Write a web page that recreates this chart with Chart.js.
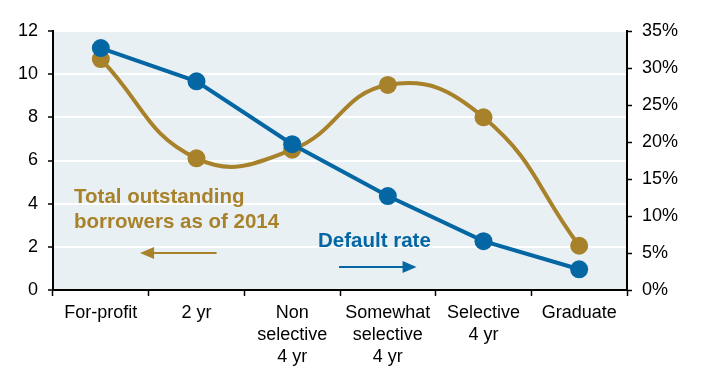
<!DOCTYPE html>
<html>
<head>
<meta charset="utf-8">
<script src="https://cdn.jsdelivr.net/npm/chart.js@4/dist/chart.umd.min.js"></script>
<style>
  html, body { margin: 0; padding: 0; background: #ffffff; }
  #wrap { width: 710px; height: 372px; position: relative; }
</style>
</head>
<body>
<div id="wrap"><canvas id="c" width="710" height="372"></canvas></div>
<script>
// Institution types
const categories = [
  "For-profit",
  "2 yr",
  ["Non", "selective", "4 yr"],
  ["Somewhat", "selective", "4 yr"],
  ["Selective", "4 yr"],
  "Graduate"
];

// Total outstanding borrowers as of 2014, millions (left axis)
const borrowers = [10.7, 6.1, 6.5, 9.5, 8.0, 2.05];

// Default rate, percent (right axis)
const defaultRate = [32.7, 28.2, 19.7, 12.7, 6.6, 2.8];

// Axis ranges
const leftTicks = { min: 0, max: 12, step: 2 };
const rightTicks = { min: 0, max: 35, step: 5 };

const BLUE = "#0467a4";
const GOLD = "#a8822a";
const FONT = "'Liberation Sans', Arial, sans-serif";

// Light panel behind the plot area
const panelBg = {
  id: "panelBg",
  beforeDraw(chart) {
    const { ctx, chartArea: a } = chart;
    ctx.save();
    ctx.fillStyle = "#e9f0f4";
    ctx.fillRect(a.left, a.top, a.right - a.left, a.bottom - a.top);
    ctx.restore();
  }
};

// Series captions with arrows pointing to their axis
const captions = {
  id: "captions",
  afterDatasetsDraw(chart) {
    const { ctx } = chart;
    const x = chart.scales.x, y = chart.scales.y;
    const px = v => x.getPixelForValue(v);
    const py = v => y.getPixelForValue(v);

    function arrow(x1, x2, yy, color) {
      const dir = Math.sign(x2 - x1);
      ctx.save();
      ctx.strokeStyle = color;
      ctx.fillStyle = color;
      ctx.lineWidth = 2;
      ctx.beginPath();
      ctx.moveTo(x1, yy);
      ctx.lineTo(x2 - dir * 12, yy);
      ctx.stroke();
      ctx.beginPath();
      ctx.moveTo(x2, yy);
      ctx.lineTo(x2 - dir * 14, yy - 6);
      ctx.lineTo(x2 - dir * 14, yy + 6);
      ctx.closePath();
      ctx.fill();
      ctx.restore();
    }

    ctx.save();
    ctx.font = "bold 20.5px " + FONT;
    ctx.textAlign = "left";
    ctx.textBaseline = "alphabetic";
    ctx.fillStyle = GOLD;
    ctx.fillText("Total outstanding", px(-0.28), py(4.03));
    ctx.fillText("borrowers as of 2014", px(-0.28), py(2.87));
    ctx.fillStyle = BLUE;
    ctx.fillText("Default rate", px(2.27), py(1.99));
    ctx.restore();

    arrow(px(1.21), px(0.41), py(1.71), GOLD);
    arrow(px(2.49), px(3.30), py(1.07), BLUE);
  }
};

new Chart(document.getElementById("c"), {
  type: "line",
  data: {
    labels: categories,
    datasets: [
      {
        label: "Default rate",
        data: defaultRate,
        yAxisID: "y1",
        borderColor: BLUE,
        backgroundColor: BLUE,
        borderWidth: 4,
        pointRadius: 9,
        pointBorderWidth: 0,
        pointBackgroundColor: BLUE,
        tension: 0
      },
      {
        label: "Total outstanding borrowers as of 2014",
        data: borrowers,
        yAxisID: "y",
        borderColor: GOLD,
        backgroundColor: GOLD,
        borderWidth: 4,
        pointRadius: 9,
        pointBorderWidth: 0,
        pointBackgroundColor: GOLD,
        tension: 0.45
      }
    ]
  },
  options: {
    responsive: false,
    animation: false,
    events: [],
    layout: { padding: { top: 31, left: 0, right: 0, bottom: 0 } },
    plugins: { legend: { display: false }, tooltip: { enabled: false } },
    scales: {
      x: {
        offset: true,
        grid: {
          offset: true,
          drawOnChartArea: false,
          drawTicks: true,
          tickLength: 6,
          tickColor: "#000",
          tickWidth: 1.5
        },
        border: { display: true, color: "#000", width: 2 },
        ticks: {
          color: "#000",
          font: { family: FONT, size: 18, lineHeight: 1.22 },
          padding: 6,
          maxRotation: 0,
          autoSkip: false
        },
        afterFit(s) { s.height = 82; }
      },
      y: {
        position: "left",
        min: leftTicks.min,
        max: leftTicks.max,
        ticks: {
          stepSize: leftTicks.step,
          color: "#000",
          font: { family: FONT, size: 18 },
          padding: 10
        },
        grid: {
          color: "#ffffff",
          lineWidth: 2,
          tickColor: "#000",
          tickLength: 5,
          tickWidth: 1.5
        },
        border: { display: true, color: "#000", width: 2 },
        afterFit(s) { s.width = 53; }
      },
      y1: {
        position: "right",
        min: rightTicks.min,
        max: rightTicks.max,
        ticks: {
          stepSize: rightTicks.step,
          color: "#000",
          font: { family: FONT, size: 18 },
          padding: 10,
          callback: v => v + "%"
        },
        grid: {
          drawOnChartArea: false,
          tickColor: "#000",
          tickLength: 5,
          tickWidth: 1.5
        },
        border: { display: true, color: "#000", width: 2 },
        afterFit(s) { s.width = 83; }
      }
    }
  },
  plugins: [panelBg, captions]
});
</script>
</body>
</html>
